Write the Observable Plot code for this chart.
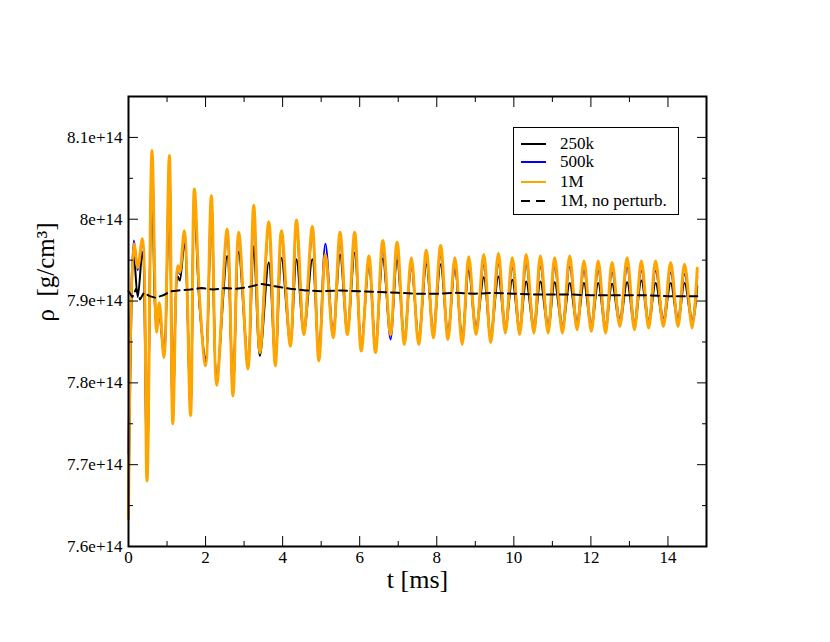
<!DOCTYPE html>
<html>
<head>
<meta charset="utf-8">
<script src="https://cdn.jsdelivr.net/npm/d3@7"></script>
<script src="https://cdn.jsdelivr.net/npm/@observablehq/plot@0.6"></script>
<style>
  html, body { margin: 0; padding: 0; background: #fff; }
  #wrap { position: relative; width: 830px; height: 642px; font-family: "Liberation Serif", "DejaVu Serif", serif; }
  #legend { position: absolute; left: 513px; top: 127px; width: 166px; height: 88px; border: 1.5px solid #000; background: #fff; box-sizing: border-box; }
  .row { position: absolute; left: 0; height: 19px; width: 100%; }
  .row svg { position: absolute; left: 7px; top: 0; }
  .row span { position: absolute; left: 46px; top: 0; font-family: "Liberation Serif", "DejaVu Serif", serif; font-size: 17px; line-height: 19px; color: #000; white-space: nowrap; }
</style>
</head>
<body>
<div id="wrap"><div id="chart"></div><div id="legend"></div></div>
<script>
// time samples (ms) at the read extrema, shared by the three resolutions
const tOsc = [0.00,0.14,0.24,0.36,0.48,0.61,0.73,0.80,0.92,1.06,1.15,1.28,1.33,1.45,1.61,1.71,1.85,2.00,2.15,2.29,
  2.56,2.71,2.86,3.10,3.25,3.41,3.64,3.81,3.97,4.20,4.36,4.55,4.77,4.94,5.11,5.31,5.49,5.68,5.87,6.04,
  6.24,6.41,6.60,6.80,6.97,7.16,7.34,7.53,7.73,7.91,8.10,8.29,8.47,8.66,8.83,9.02,9.22,9.40,9.60,9.78,
  9.96,10.15,10.32,10.52,10.69,10.89,11.06,11.26,11.45,11.64,11.82,12.01,12.19,12.38,12.55,12.75,12.94,13.13,13.31,13.50,
  13.68,13.88,14.07,14.26,14.43,14.63,14.76];
// density in units of 1e14 g/cm^3
const rho1M = [7.634,7.970,7.941,7.976,7.680,8.084,7.862,7.898,7.831,8.078,7.750,7.943,7.935,7.986,7.760,8.037,7.898,7.821,8.029,7.797,
  7.988,7.784,7.984,7.817,8.017,7.837,7.997,7.821,7.986,7.845,7.999,7.859,7.991,7.827,7.957,7.855,7.984,7.859,7.984,7.839,
  7.955,7.837,7.974,7.859,7.972,7.847,7.953,7.847,7.962,7.855,7.968,7.853,7.953,7.847,7.954,7.859,7.957,7.849,7.958,7.861,
  7.953,7.859,7.957,7.861,7.955,7.861,7.953,7.861,7.955,7.865,7.949,7.863,7.949,7.861,7.947,7.869,7.953,7.865,7.949,7.867,
  7.949,7.869,7.947,7.869,7.945,7.867,7.940];
const rho500k = [7.713,7.974,7.938,7.972,7.690,8.076,7.866,7.895,7.835,8.070,7.755,7.940,7.933,7.980,7.766,8.030,7.893,7.826,8.022,7.802,
  7.980,7.792,7.975,7.824,8.006,7.844,7.987,7.829,7.976,7.852,7.988,7.865,7.980,7.835,7.970,7.862,7.973,7.867,7.972,7.849,
  7.943,7.847,7.962,7.853,7.960,7.857,7.941,7.857,7.950,7.865,7.955,7.863,7.941,7.857,7.942,7.869,7.944,7.859,7.945,7.871,
  7.941,7.869,7.944,7.871,7.942,7.871,7.941,7.871,7.942,7.875,7.937,7.873,7.937,7.871,7.935,7.879,7.941,7.875,7.937,7.877,
  7.937,7.879,7.935,7.879,7.933,7.877,7.930];
const rho250k = [7.634,7.955,7.905,7.960,7.700,8.060,7.870,7.880,7.833,8.055,7.760,7.930,7.925,7.970,7.770,8.015,7.890,7.830,8.005,7.805,
  7.955,7.795,7.960,7.825,7.967,7.833,7.947,7.828,7.953,7.848,7.951,7.862,7.951,7.835,7.953,7.860,7.957,7.862,7.959,7.845,
  7.947,7.843,7.952,7.862,7.950,7.852,7.945,7.852,7.945,7.860,7.945,7.858,7.941,7.853,7.937,7.864,7.929,7.856,7.930,7.866,
  7.926,7.864,7.924,7.866,7.924,7.866,7.923,7.867,7.922,7.870,7.922,7.868,7.922,7.867,7.921,7.873,7.923,7.870,7.925,7.872,
  7.922,7.873,7.922,7.873,7.922,7.872,7.918];
// 1M without perturbation
const tNoPert = [0.00,0.10,0.20,0.30,0.40,0.55,0.70,0.90,1.10,1.30,1.60,1.90,2.20,2.50,2.80,3.10,3.45,3.80,4.20,4.60,
  5.00,5.50,6.00,6.50,7.00,7.50,8.00,8.50,9.00,9.50,10.00,10.50,11.00,11.50,12.00,12.50,13.00,13.50,14.00,14.50,14.76];
const rhoNoPert = [7.912,7.905,7.915,7.902,7.910,7.906,7.904,7.907,7.912,7.913,7.914,7.916,7.914,7.916,7.915,7.917,7.921,7.918,7.915,7.913,
  7.912,7.913,7.912,7.911,7.910,7.909,7.909,7.910,7.909,7.910,7.909,7.908,7.908,7.908,7.907,7.907,7.907,7.907,7.906,7.906,7.906];

const xDomain = [0, 15];
const yDomain = [7.6, 8.15];
const xMajor = [0, 2, 4, 6, 8, 10, 12, 14];
const xTickLabels = ["0", "2", "4", "6", "8", "10", "12", "14"];
const xMinor = [1, 3, 5, 7, 9, 11, 13, 15];
const yMajor = [7.6, 7.7, 7.8, 7.9, 8.0, 8.1];
const yTickLabels = ["7.6e+14", "7.7e+14", "7.8e+14", "7.9e+14", "8e+14", "8.1e+14"];
const yMinor = [7.65, 7.75, 7.85, 7.95, 8.05];
const seriesNames = ["250k", "500k", "1M", "1M, no perturb."];
const seriesColors = ["#000000", "#0000ff", "#ffa500", "#000000"];
const xLabel = "t [ms]";
const yLabel = "ρ  [g/cm³]";

const mk = (ts, vs) => ts.map((t, i) => ({t, v: vs[i]}));
const d250 = mk(tOsc, rho250k), d500 = mk(tOsc, rho500k), d1M = mk(tOsc, rho1M), dNP = mk(tNoPert, rhoNoPert);

const serif = "Liberation Serif";
const blank = () => "";
const chart = Plot.plot({
  width: 830, height: 642,
  marginLeft: 128, marginRight: 124, marginTop: 96, marginBottom: 96,
  style: {fontFamily: "'Liberation Serif', serif", color: "#000", background: "#fff", overflow: "visible"},
  x: {domain: xDomain},
  y: {domain: yDomain},
  marks: [
    Plot.line(d250, {x: "t", y: "v", stroke: seriesColors[0], strokeWidth: 2, curve: "catmull-rom"}),
    Plot.line(d500, {x: "t", y: "v", stroke: seriesColors[1], strokeWidth: 2, curve: "catmull-rom"}),
    Plot.line(d1M, {x: "t", y: "v", stroke: seriesColors[2], strokeWidth: 3, curve: "catmull-rom"}),
    Plot.line(dNP, {x: "t", y: "v", stroke: seriesColors[3], strokeWidth: 2, strokeDasharray: "8,5"}),
    Plot.axisX({anchor: "bottom", ticks: xMajor, tickSize: -10, tickFormat: blank, label: null}),
    Plot.axisX({anchor: "bottom", ticks: xMinor, tickSize: -5, tickFormat: blank, label: null}),
    Plot.axisX({anchor: "top", ticks: xMajor, tickSize: -10, tickFormat: blank, label: null}),
    Plot.axisX({anchor: "top", ticks: xMinor, tickSize: -5, tickFormat: blank, label: null}),
    Plot.axisY({anchor: "left", ticks: yMajor, tickSize: -10, tickFormat: blank, label: null}),
    Plot.axisY({anchor: "left", ticks: yMinor, tickSize: -5, tickFormat: blank, label: null}),
    Plot.axisY({anchor: "right", ticks: yMajor, tickSize: -10, tickFormat: blank, label: null}),
    Plot.axisY({anchor: "right", ticks: yMinor, tickSize: -5, tickFormat: blank, label: null}),
    Plot.frame({stroke: "#000", strokeWidth: 2}),
    // tick labels
    Plot.text(xMajor, {x: d => d, text: (d, i) => xTickLabels[i], frameAnchor: "bottom", lineAnchor: "top", dy: 4, fontSize: 17, fontFamily: serif, fill: "#000"}),
    Plot.text(yMajor, {y: d => d, text: (d, i) => yTickLabels[i], frameAnchor: "left", textAnchor: "end", dx: -6, fontSize: 17, fontFamily: serif, fill: "#000"}),
    // axis titles
    Plot.text([xLabel], {text: d => d, frameAnchor: "bottom", lineAnchor: "top", dy: 23, fontSize: 26, fontFamily: serif, fill: "#000"}),
    Plot.text([yLabel], {text: d => d, frameAnchor: "left", dx: -83, rotate: -90, fontSize: 25, fontFamily: serif, fill: "#000"})
  ]
});
document.getElementById("chart").appendChild(chart);

// legend inside the plot box
const legend = document.getElementById("legend");
const rowTops = [6, 24, 44, 63];
seriesNames.forEach((name, i) => {
  const row = document.createElement("div");
  row.className = "row";
  row.style.top = rowTops[i] + "px";
  const dash = i === 3 ? 'stroke-dasharray="9,6"' : "";
  row.innerHTML = `<svg width="26" height="19"><line x1="0" y1="10" x2="25" y2="10" stroke="${seriesColors[i]}" stroke-width="2" ${dash}/></svg><span>${name}</span>`;
  legend.appendChild(row);
});
</script>
</body>
</html>
